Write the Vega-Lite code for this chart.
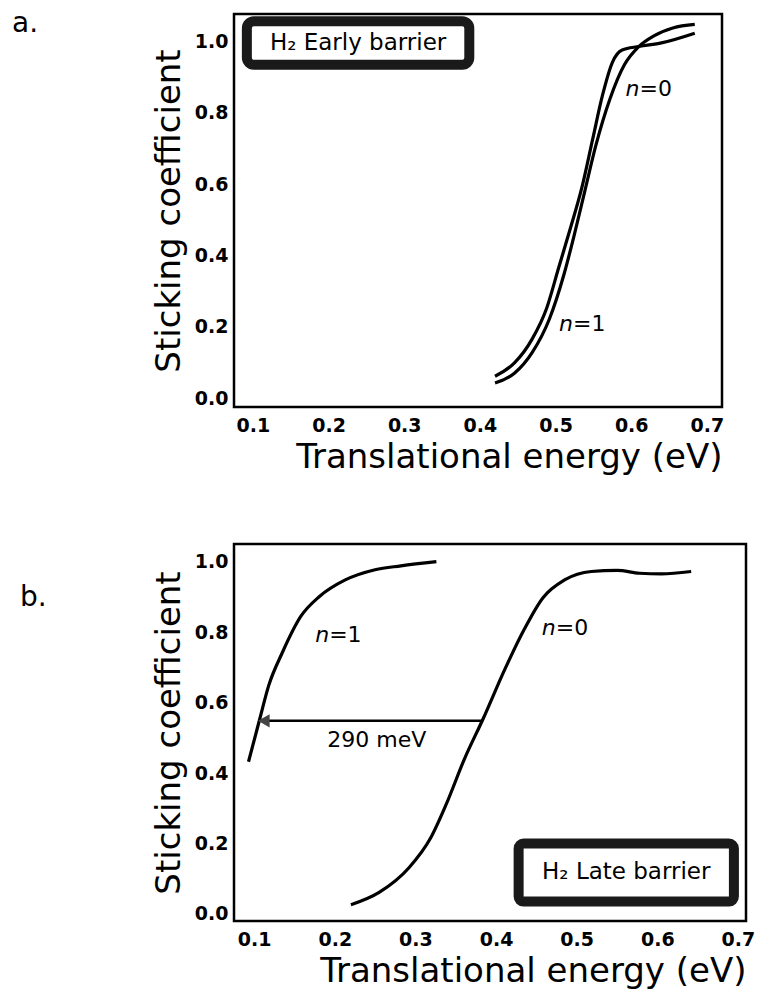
{
  "$schema": "https://vega.github.io/schema/vega-lite/v6.json",
  "background": "white",
  "padding": {"left": 10, "top": 8, "right": 5, "bottom": 2},
  "config": {
    "view": {"stroke": "black", "strokeWidth": 2.5},
    "font": "DejaVu Sans",
    "axis": {
      "grid": false, "domain": false, "ticks": false,
      "labelFont": "DejaVu Sans", "labelFontWeight": "bold", "labelFontSize": 19, "labelColor": "black",
      "titleFont": "DejaVu Sans", "titleFontWeight": "normal", "titleFontSize": 34, "titleColor": "black"
    },
    "title": {"font": "DejaVu Sans", "fontSize": 28, "fontWeight": "normal", "color": "black"}
  },
  "datasets": {
    "curvesA": [
      {"series": "n=1", "E": 0.42, "S": 0.062},
      {"series": "n=1", "E": 0.446, "S": 0.10},
      {"series": "n=1", "E": 0.469, "S": 0.166},
      {"series": "n=1", "E": 0.488, "S": 0.251},
      {"series": "n=1", "E": 0.504, "S": 0.365},
      {"series": "n=1", "E": 0.52, "S": 0.479},
      {"series": "n=1", "E": 0.535, "S": 0.592},
      {"series": "n=1", "E": 0.549, "S": 0.725},
      {"series": "n=1", "E": 0.562, "S": 0.848},
      {"series": "n=1", "E": 0.575, "S": 0.94},
      {"series": "n=1", "E": 0.588, "S": 0.975},
      {"series": "n=1", "E": 0.61, "S": 0.985},
      {"series": "n=1", "E": 0.64, "S": 0.995},
      {"series": "n=1", "E": 0.684, "S": 1.022},
      {"series": "n=0", "E": 0.42, "S": 0.043},
      {"series": "n=0", "E": 0.446, "S": 0.071},
      {"series": "n=0", "E": 0.469, "S": 0.128},
      {"series": "n=0", "E": 0.492, "S": 0.223},
      {"series": "n=0", "E": 0.511, "S": 0.346},
      {"series": "n=0", "E": 0.525, "S": 0.46},
      {"series": "n=0", "E": 0.539, "S": 0.583},
      {"series": "n=0", "E": 0.553, "S": 0.706},
      {"series": "n=0", "E": 0.572, "S": 0.839},
      {"series": "n=0", "E": 0.591, "S": 0.934},
      {"series": "n=0", "E": 0.61, "S": 0.985},
      {"series": "n=0", "E": 0.63, "S": 1.015},
      {"series": "n=0", "E": 0.655, "S": 1.037},
      {"series": "n=0", "E": 0.684, "S": 1.047}
    ],
    "curvesB": [
      {"series": "n=1", "E": 0.093, "S": 0.432},
      {"series": "n=1", "E": 0.107, "S": 0.554},
      {"series": "n=1", "E": 0.118, "S": 0.648},
      {"series": "n=1", "E": 0.135, "S": 0.742},
      {"series": "n=1", "E": 0.158, "S": 0.845},
      {"series": "n=1", "E": 0.181, "S": 0.901},
      {"series": "n=1", "E": 0.213, "S": 0.948},
      {"series": "n=1", "E": 0.25, "S": 0.977},
      {"series": "n=1", "E": 0.282, "S": 0.988},
      {"series": "n=1", "E": 0.326, "S": 1.0},
      {"series": "n=0", "E": 0.22, "S": 0.026},
      {"series": "n=0", "E": 0.255, "S": 0.061},
      {"series": "n=0", "E": 0.292, "S": 0.131},
      {"series": "n=0", "E": 0.319, "S": 0.216},
      {"series": "n=0", "E": 0.338, "S": 0.31},
      {"series": "n=0", "E": 0.361, "S": 0.441},
      {"series": "n=0", "E": 0.384, "S": 0.554},
      {"series": "n=0", "E": 0.411, "S": 0.695},
      {"series": "n=0", "E": 0.435, "S": 0.808},
      {"series": "n=0", "E": 0.458, "S": 0.897},
      {"series": "n=0", "E": 0.485, "S": 0.948},
      {"series": "n=0", "E": 0.518, "S": 0.972},
      {"series": "n=0", "E": 0.55, "S": 0.975},
      {"series": "n=0", "E": 0.578, "S": 0.967},
      {"series": "n=0", "E": 0.605, "S": 0.965},
      {"series": "n=0", "E": 0.642, "S": 0.972}
    ],
    "nLabelsA": [
      {"x": 0.611, "y": 0.867, "n": "n", "rest": "=0"},
      {"x": 0.523, "y": 0.209, "n": "n", "rest": "=1"}
    ],
    "nLabelsB": [
      {"x": 0.193, "y": 0.793, "n": "n", "rest": "=1"},
      {"x": 0.474, "y": 0.812, "n": "n", "rest": "=0"}
    ]
  },
  "spacing": 66,
  "vconcat": [
    {
      "width": 488,
      "height": 393,
      "title": {"text": "a.", "anchor": "start", "frame": "group", "offset": 0, "dx": -222, "dy": 24},
      "layer": [
        {
          "data": {"name": "curvesA"},
          "mark": {"type": "line", "color": "black", "strokeWidth": 3.2, "interpolate": "monotone"},
          "encoding": {
            "x": {"field": "E", "type": "quantitative", "title": "Translational energy (eV)",
              "scale": {"domain": [0.075, 0.72], "nice": false, "zero": false},
              "axis": {"values": [0.1, 0.2, 0.3, 0.4, 0.5, 0.6, 0.7], "format": ".1f", "labelPadding": 9, "titlePadding": 5, "titleAnchor": "end"}},
            "y": {"field": "S", "type": "quantitative", "title": "Sticking coefficient",
              "scale": {"domain": [-0.024, 1.076], "nice": false, "zero": false},
              "axis": {"values": [0, 0.2, 0.4, 0.6, 0.8, 1.0], "format": ".1f", "labelPadding": 6, "titlePadding": 8}},
            "detail": {"field": "series"}
          }
        },
        {
          "data": {"values": [{"x1": 0.092, "x2": 0.386, "y1": 1.056, "y2": 0.934}]},
          "mark": {"type": "rect", "fill": "white", "stroke": "#1a1a1a", "strokeWidth": 10, "cornerRadius": 7},
          "encoding": {
            "x": {"field": "x1", "type": "quantitative"},
            "x2": {"field": "x2"},
            "y": {"field": "y1", "type": "quantitative"},
            "y2": {"field": "y2"}
          }
        },
        {
          "data": {"values": [{"x": 0.239, "y": 0.995, "label": "H₂ Early barrier"}]},
          "mark": {"type": "text", "fontSize": 23, "color": "black", "align": "center", "baseline": "middle"},
          "encoding": {
            "x": {"field": "x", "type": "quantitative"},
            "y": {"field": "y", "type": "quantitative"},
            "text": {"field": "label"}
          }
        },
        {
          "data": {"name": "nLabelsA"},
          "mark": {"type": "text", "fontSize": 22, "fontStyle": "italic", "color": "black", "align": "right", "baseline": "middle"},
          "encoding": {
            "x": {"field": "x", "type": "quantitative"},
            "y": {"field": "y", "type": "quantitative"},
            "text": {"field": "n"}
          }
        },
        {
          "data": {"name": "nLabelsA"},
          "mark": {"type": "text", "fontSize": 22, "color": "black", "align": "left", "baseline": "middle"},
          "encoding": {
            "x": {"field": "x", "type": "quantitative"},
            "y": {"field": "y", "type": "quantitative"},
            "text": {"field": "rest"}
          }
        }
      ]
    },
    {
      "width": 512,
      "height": 377,
      "title": {"text": "b.", "anchor": "start", "frame": "group", "offset": 0, "dx": -214, "dy": 68},
      "layer": [
        {
          "data": {"name": "curvesB"},
          "mark": {"type": "line", "color": "black", "strokeWidth": 3.2, "interpolate": "monotone"},
          "encoding": {
            "x": {"field": "E", "type": "quantitative", "title": "Translational energy (eV)",
              "scale": {"domain": [0.075, 0.71], "nice": false, "zero": false},
              "axis": {"values": [0.1, 0.2, 0.3, 0.4, 0.5, 0.6, 0.7], "format": ".1f", "labelPadding": 9, "titlePadding": 5, "titleAnchor": "end"}},
            "y": {"field": "S", "type": "quantitative", "title": "Sticking coefficient",
              "scale": {"domain": [-0.02, 1.05], "nice": false, "zero": false},
              "axis": {"values": [0, 0.2, 0.4, 0.6, 0.8, 1.0], "format": ".1f", "labelPadding": 6, "titlePadding": 8}},
            "detail": {"field": "series"}
          }
        },
        {
          "data": {"values": [{"x1": 0.383, "x2": 0.118, "y": 0.548}]},
          "mark": {"type": "rule", "color": "black", "strokeWidth": 2.5},
          "encoding": {
            "x": {"field": "x1", "type": "quantitative"},
            "x2": {"field": "x2"},
            "y": {"field": "y", "type": "quantitative"}
          }
        },
        {
          "data": {"values": [{"x": 0.112, "y": 0.548}]},
          "mark": {"type": "point", "shape": "triangle-left", "filled": true, "color": "#444", "size": 180, "opacity": 1},
          "encoding": {
            "x": {"field": "x", "type": "quantitative"},
            "y": {"field": "y", "type": "quantitative"}
          }
        },
        {
          "data": {"values": [{"x": 0.252, "y": 0.495, "label": "290 meV"}]},
          "mark": {"type": "text", "fontSize": 22, "color": "black", "align": "center", "baseline": "middle"},
          "encoding": {
            "x": {"field": "x", "type": "quantitative"},
            "y": {"field": "y", "type": "quantitative"},
            "text": {"field": "label"}
          }
        },
        {
          "data": {"name": "nLabelsB"},
          "mark": {"type": "text", "fontSize": 22, "fontStyle": "italic", "color": "black", "align": "right", "baseline": "middle"},
          "encoding": {
            "x": {"field": "x", "type": "quantitative"},
            "y": {"field": "y", "type": "quantitative"},
            "text": {"field": "n"}
          }
        },
        {
          "data": {"name": "nLabelsB"},
          "mark": {"type": "text", "fontSize": 22, "color": "black", "align": "left", "baseline": "middle"},
          "encoding": {
            "x": {"field": "x", "type": "quantitative"},
            "y": {"field": "y", "type": "quantitative"},
            "text": {"field": "rest"}
          }
        },
        {
          "data": {"values": [{"x1": 0.428, "x2": 0.695, "y1": 0.2, "y2": 0.035}]},
          "mark": {"type": "rect", "fill": "white", "stroke": "#1a1a1a", "strokeWidth": 10, "cornerRadius": 5},
          "encoding": {
            "x": {"field": "x1", "type": "quantitative"},
            "x2": {"field": "x2"},
            "y": {"field": "y1", "type": "quantitative"},
            "y2": {"field": "y2"}
          }
        },
        {
          "data": {"values": [{"x": 0.5615, "y": 0.12, "label": "H₂ Late barrier"}]},
          "mark": {"type": "text", "fontSize": 23, "color": "black", "align": "center", "baseline": "middle"},
          "encoding": {
            "x": {"field": "x", "type": "quantitative"},
            "y": {"field": "y", "type": "quantitative"},
            "text": {"field": "label"}
          }
        }
      ]
    }
  ]
}
